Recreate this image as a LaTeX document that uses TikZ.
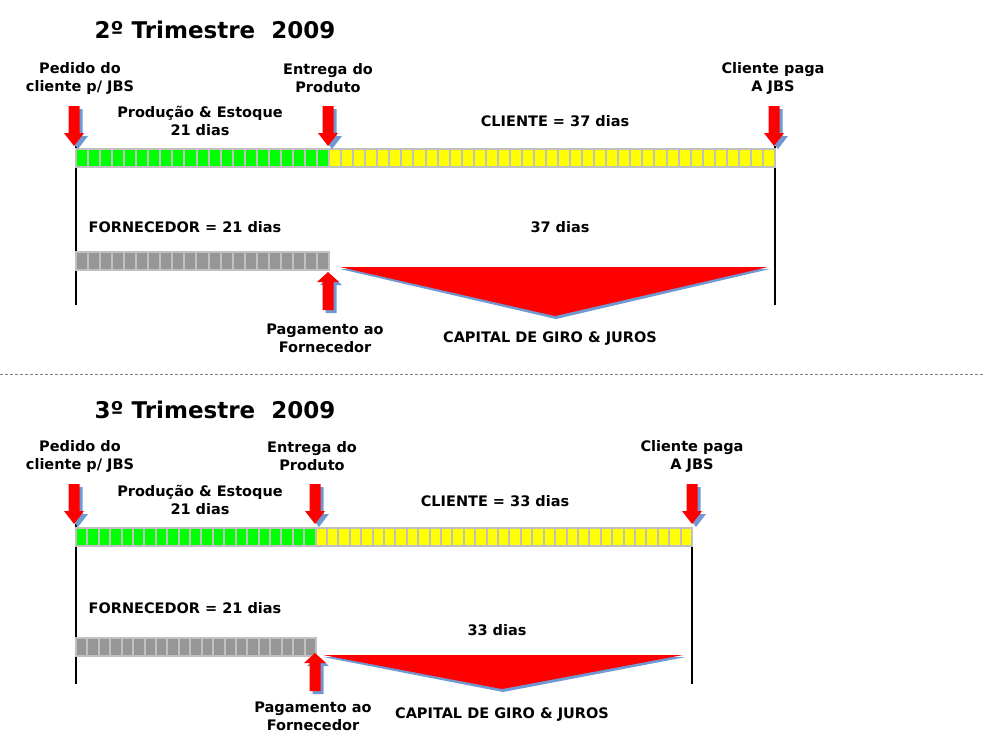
\documentclass[tikz,border=0pt]{standalone}
\usepackage{fontspec}
\setmainfont{DejaVu Sans}
\usetikzlibrary{positioning}

\definecolor{cellgreen}{RGB}{0,255,0}
\definecolor{cellyellow}{RGB}{255,255,0}
\definecolor{cellgray}{RGB}{150,150,150}
\definecolor{framegray}{RGB}{192,192,192}
\definecolor{shadowblue}{RGB}{112,152,210}

\begin{document}
\begin{tikzpicture}[
  x=1pt, y=-1pt,
  title/.style={font=\fontsize{23}{27}\selectfont\bfseries},
  lbl/.style={font=\fontsize{14.5}{18}\selectfont\bfseries, align=center, inner sep=0pt},
  timeline/.style={draw=black, line width=1.6pt},
  frame/.style={fill=framegray},
  wedge/.style={fill=red},
  wedgeshadow/.style={fill=shadowblue},
  downarrow/.pic={
    \fill[shadowblue] (-2.5,-37) -- (8.5,-37) -- (8.5,-10) -- (14,-10) -- (4,3) -- (-6,-10) -- (-1.5,-10) -- cycle;
    \fill[red] (-5.5,-40) -- (5.5,-40) -- (5.5,-13) -- (10,-13) -- (0,0) -- (-10,-13) -- (-5.5,-13) -- cycle;
  },
  uparrow/.pic={
    \fill[shadowblue] (-2.5,41) -- (8.5,41) -- (8.5,13) -- (14,13) -- (3,3) -- (-8,13) -- (-2.5,13) -- cycle;
    \fill[red] (-5.5,38) -- (5.5,38) -- (5.5,10) -- (11,10) -- (0,0) -- (-11,10) -- (-5.5,10) -- cycle;
  }
]
\useasboundingbox (0,0) rectangle (984,734);

% =======================================================
%                   2o TRIMESTRE 2009
% =======================================================
\node[title] (titleA) at (215,30) {2º Trimestre\ \ 2009};

\node[lbl] (pedidoA)  at (80,78)  {Pedido do\\cliente p/ JBS};
\node[lbl] (entregaA) at (328,78) {Entrega do\\Produto};
\node[lbl] (pagaA)    at (773,78) {Cliente paga\\A JBS};
\node[lbl] (prodA)    at (200,121) {Produção \& Estoque\\21 dias};
\node[lbl] (clienteA) at (555,121) {CLIENTE = 37 dias};

% time lines
\draw[timeline] (76,146) -- (76,305);
\draw[timeline] (775,146) -- (775,305);

% client bar: 21 + 37 days
\fill[frame] (75,148) rectangle (776,168);
\foreach \i in {0,...,57}{
  \pgfmathsetmacro\xa{76+\i*(699/58)+1}
  \pgfmathsetmacro\xb{76+(\i+1)*(699/58)-1}
  \ifnum\i<21 \def\cellcol{cellgreen}\else\def\cellcol{cellyellow}\fi
  \fill[\cellcol] (\xa,150) rectangle (\xb,166);
}

\pic at (74,146) {downarrow};
\pic at (328,146) {downarrow};
\pic at (774,146) {downarrow};

% supplier bar: 21 days
\node[lbl] (fornA) at (185,227) {FORNECEDOR = 21 dias};
\node[lbl] (diasA) at (560,227) {37 dias};
\fill[frame] (75,251) rectangle (330,271);
\foreach \i in {0,...,20}{
  \pgfmathsetmacro\xa{76+\i*(253/21)+1}
  \pgfmathsetmacro\xb{76+(\i+1)*(253/21)-1}
  \fill[cellgray] (\xa,253) rectangle (\xb,269);
}

% working capital wedge
\fill[wedgeshadow] (340,269) -- (770,269) -- (556,319) -- cycle;
\fill[wedge] (340,267) -- (768,267) -- (555,316) -- cycle;
\pic at (328,272) {uparrow};

\node[lbl] (pagA) at (325,338) {Pagamento ao\\Fornecedor};
\node[lbl] (capA) at (550,339) {CAPITAL DE GIRO \& JUROS};

% separator
\draw[gray, dash pattern=on 3pt off 2pt] (0,374) -- (984,374);

% =======================================================
%                   3o TRIMESTRE 2009
% =======================================================
\node[title] (titleB) at (215,410) {3º Trimestre\ \ 2009};

\node[lbl] (pedidoB)  at (80,456)  {Pedido do\\cliente p/ JBS};
\node[lbl] (entregaB) at (312,456) {Entrega do\\Produto};
\node[lbl] (pagaB)    at (692,456) {Cliente paga\\A JBS};
\node[lbl] (prodB)    at (200,500) {Produção \& Estoque\\21 dias};
\node[lbl] (clienteB) at (495,501) {CLIENTE = 33 dias};

% time lines
\draw[timeline] (76,524) -- (76,684);
\draw[timeline] (692,547) -- (692,684);

% client bar: 21 + 33 days
\fill[frame] (75,527) rectangle (693,547);
\foreach \i in {0,...,53}{
  \pgfmathsetmacro\xa{76+\i*(616/54)+1}
  \pgfmathsetmacro\xb{76+(\i+1)*(616/54)-1}
  \ifnum\i<21 \def\cellcol{cellgreen}\else\def\cellcol{cellyellow}\fi
  \fill[\cellcol] (\xa,529) rectangle (\xb,545);
}

\pic at (74,524) {downarrow};
\pic at (315,524) {downarrow};
\pic at (692,524) {downarrow};

% supplier bar: 21 days
\node[lbl] (fornB) at (185,608) {FORNECEDOR = 21 dias};
\node[lbl] (diasB) at (497,630) {33 dias};
\fill[frame] (75,637) rectangle (317,657);
\foreach \i in {0,...,20}{
  \pgfmathsetmacro\xa{76+\i*(240/21)+1}
  \pgfmathsetmacro\xb{76+(\i+1)*(240/21)-1}
  \fill[cellgray] (\xa,639) rectangle (\xb,655);
}

% working capital wedge
\fill[wedgeshadow] (323,657) -- (686,657) -- (503,692) -- cycle;
\fill[wedge] (323,655) -- (683,655) -- (502,689) -- cycle;
\pic at (315,653) {uparrow};

\node[lbl] (pagB) at (313,716) {Pagamento ao\\Fornecedor};
\node[lbl] (capB) at (502,715) {CAPITAL DE GIRO \& JUROS};

\end{tikzpicture}
\end{document}
